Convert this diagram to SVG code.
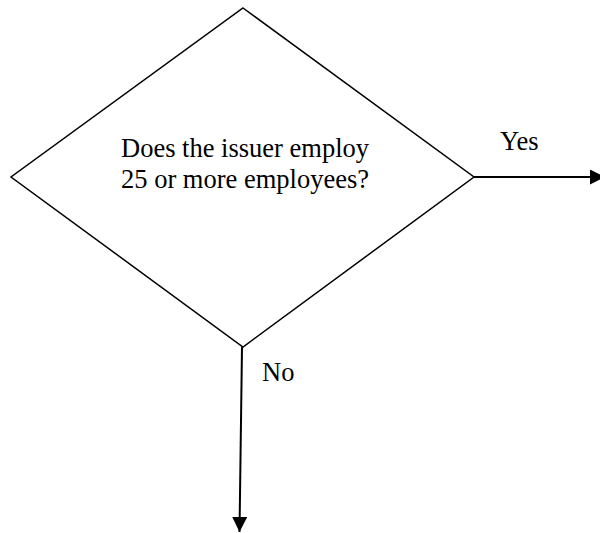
<svg xmlns="http://www.w3.org/2000/svg" width="600" height="533" viewBox="0 0 600 533">
  <style>
    .shape { fill: #ffffff; stroke: #000000; stroke-width: 1.5; }
    .edge { fill: none; stroke: #000000; stroke-width: 2; }
    .label { font-family: "Liberation Serif", "Times New Roman", serif; font-size: 26.5px; fill: #000000; }
  </style>
  <defs>
    <marker id="arrow" viewBox="0 0 10 10" refX="10" refY="5" markerUnits="userSpaceOnUse" markerWidth="15" markerHeight="15" orient="auto">
      <path d="M0,0 L10,5 L0,10 Z" fill="#000000"/>
    </marker>
  </defs>
  <rect width="600" height="533" fill="#ffffff"/>

  <!-- decision node -->
  <g id="decision">
    <polygon class="shape" points="243,8 474,177 243,347 11,177"/>
    <text class="label" x="121" y="157">Does the issuer employ</text>
    <text class="label" x="121" y="188">25 or more employees?</text>
  </g>

  <!-- connectors -->
  <g id="connectors">
    <line class="edge" x1="474" y1="177" x2="605" y2="177" marker-end="url(#arrow)"/>
    <line class="edge" x1="242" y1="347" x2="239.5" y2="532" marker-end="url(#arrow)"/>
    <text class="label" x="500" y="150">Yes</text>
    <text class="label" x="262" y="381">No</text>
  </g>
</svg>
